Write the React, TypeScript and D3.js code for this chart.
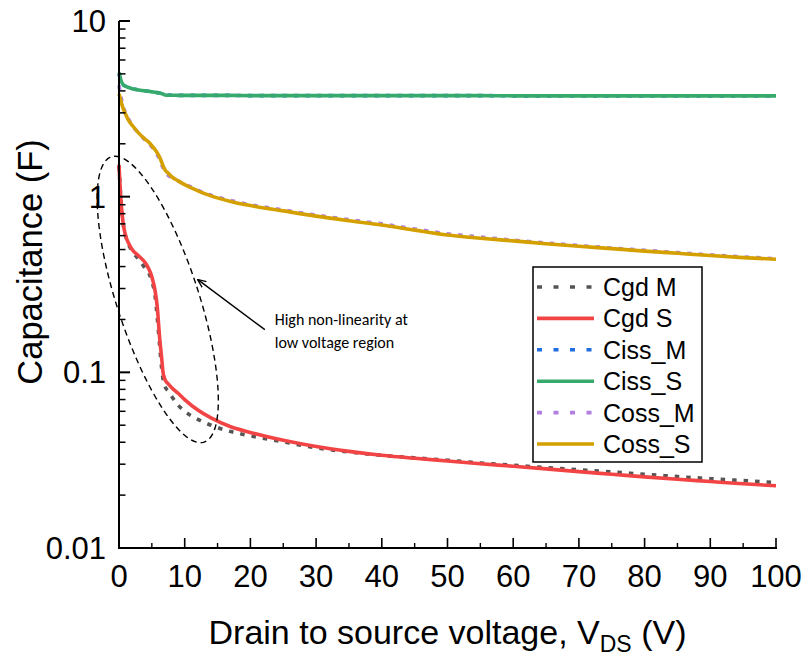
import React from "react";
import * as d3 from "d3";

const voltages = [0, 0.3, 0.6, 1, 1.5, 2, 3, 4, 4.5, 5, 5.5, 5.8, 6.2, 6.5, 6.7, 7, 7.5, 8, 9, 10, 12, 14, 17, 20, 25, 30, 35, 40, 45, 50, 55, 60, 65, 70, 75, 80, 85, 90, 95, 100];

const cgdM = [1.5, 0.95, 0.72, 0.6, 0.53, 0.49, 0.44, 0.39, 0.37, 0.33, 0.27, 0.21, 0.14, 0.105, 0.092, 0.083, 0.078, 0.073, 0.065, 0.06, 0.054, 0.05, 0.046, 0.0435, 0.0402, 0.0372, 0.0352, 0.0337, 0.0326, 0.0316, 0.0305, 0.0296, 0.0287, 0.0279, 0.0271, 0.0263, 0.0255, 0.0248, 0.0242, 0.0236];
const cgdS = [1.52, 0.95, 0.72, 0.6, 0.54, 0.5, 0.46, 0.42, 0.39, 0.35, 0.29, 0.24, 0.155, 0.12, 0.1, 0.091, 0.086, 0.082, 0.076, 0.07, 0.061, 0.055, 0.049, 0.0455, 0.041, 0.0378, 0.0355, 0.0337, 0.0324, 0.0313, 0.0302, 0.0292, 0.0282, 0.0272, 0.0263, 0.0254, 0.0246, 0.0239, 0.0232, 0.0226];
const cissM = [5.0, 4.6, 4.35, 4.25, 4.18, 4.12, 4.05, 4.0, 3.98, 3.95, 3.93, 3.91, 3.89, 3.86, 3.84, 3.8, 3.79, 3.78, 3.77, 3.77, 3.77, 3.77, 3.77, 3.76, 3.76, 3.76, 3.76, 3.76, 3.76, 3.76, 3.76, 3.75, 3.75, 3.75, 3.75, 3.75, 3.75, 3.75, 3.75, 3.75];
const cissS = [5.1, 4.6, 4.35, 4.25, 4.18, 4.12, 4.05, 4.0, 3.98, 3.95, 3.93, 3.91, 3.89, 3.86, 3.84, 3.79, 3.78, 3.78, 3.77, 3.77, 3.77, 3.77, 3.77, 3.76, 3.76, 3.76, 3.76, 3.76, 3.76, 3.76, 3.76, 3.75, 3.75, 3.75, 3.75, 3.75, 3.75, 3.75, 3.75, 3.75];
const cossM = [4.3, 3.7, 3.3, 3.0, 2.75, 2.55, 2.3, 2.1, 2.02, 1.92, 1.82, 1.74, 1.62, 1.52, 1.46, 1.38, 1.32, 1.28, 1.23, 1.18, 1.09, 1.02, 0.95, 0.9, 0.84, 0.785, 0.74, 0.70, 0.655, 0.615, 0.59, 0.565, 0.545, 0.527, 0.51, 0.495, 0.48, 0.466, 0.454, 0.443];
const cossS = [3.85, 3.5, 3.2, 2.95, 2.7, 2.55, 2.3, 2.12, 2.05, 1.95, 1.85, 1.78, 1.67, 1.57, 1.5, 1.42, 1.36, 1.3, 1.23, 1.17, 1.08, 1.01, 0.94, 0.89, 0.83, 0.775, 0.73, 0.69, 0.645, 0.605, 0.58, 0.56, 0.54, 0.522, 0.506, 0.49, 0.476, 0.462, 0.45, 0.44];

const seriesNames = ["Cgd M", "Cgd S", "Ciss_M", "Ciss_S", "Coss_M", "Coss_S"];
const seriesValues = [cgdM, cgdS, cissM, cissS, cossM, cossS];
const seriesColors = ["#555555", "#f24444", "#1f6fdc", "#36aa6c", "#b07fdf", "#d4a000"];
const seriesDashed = [true, false, true, false, true, false];
const drawOrder = [4, 5, 2, 3, 0, 1];

const xTicks = [0, 10, 20, 30, 40, 50, 60, 70, 80, 90, 100];
const xMinorTicks = [5, 15, 25, 35, 45, 55, 65, 75, 85, 95];
const yTicks = [0.01, 0.1, 1, 10];
const yTickLabels = ["0.01", "0.1", "1", "10"];

const annotationLines = ["High non-linearity at", "low voltage region"];

const W = 806;
const H = 656;
const FONT = "'Liberation Sans', Arial, sans-serif";

export default function App() {
  const x = d3.scaleLinear().domain([0, 100]).range([119, 776]);
  const y = d3.scaleLog().domain([0.01, 10]).range([548, 21]);

  const yMinor: number[] = [];
  [0.01, 0.1, 1].forEach((d) => {
    for (let k = 2; k <= 9; k++) yMinor.push(d * k);
  });

  const line = d3
    .line<number>()
    .x((_, i) => x(voltages[i]))
    .y((v) => y(v))
    .curve(d3.curveMonotoneX);

  const ellC = { x: x(5.9), y: y(0.26) };
  const arrowTail = { x: x(22.2), y: y(0.175) };
  const arrowHead = { x: x(12.0), y: y(0.337) };
  const textPos = { x: x(23.7), y: y(0.2) };

  const legendX = 533;
  const legendY = 267;
  const legendW = 169;
  const legendH = 195;
  const rowGap = 31.4;

  return (
    <svg
      width={W}
      height={H}
      style={{ position: "absolute", left: 0, top: 0, background: "#fff" }}
      xmlns="http://www.w3.org/2000/svg"
    >
      <defs>
        <marker id="ah" viewBox="0 0 10 10" refX="9" refY="5" markerWidth="9" markerHeight="9" orient="auto" markerUnits="userSpaceOnUse">
          <path d="M0,1 L9.5,5 L0,9" fill="none" stroke="#000" strokeWidth="1.4" />
        </marker>
      </defs>
      <rect x={0} y={0} width={W} height={H} fill="#fff" />

      {drawOrder.map((i) => (
        <path
          key={seriesNames[i]}
          d={line(seriesValues[i]) || ""}
          fill="none"
          stroke={seriesColors[i]}
          strokeWidth={3.6}
          strokeDasharray={seriesDashed[i] ? "4.5 7" : undefined}
          strokeLinejoin="round"
        />
      ))}

      <line x1={119} x2={119} y1={y(10)} y2={y(0.01) + 1} stroke="#000" strokeWidth={2} />
      <line x1={118} x2={x(100) + 1} y1={y(0.01)} y2={y(0.01)} stroke="#000" strokeWidth={2} />

      {yTicks.map((t, i) => (
        <g key={"yt" + t}>
          <line x1={119} x2={130} y1={y(t)} y2={y(t)} stroke="#000" strokeWidth={2} />
          <text x={106} y={y(t) + 11} textAnchor="end" fontFamily={FONT} fontSize={31} fill="#000">
            {yTickLabels[i]}
          </text>
        </g>
      ))}
      {yMinor.map((t) => (
        <line key={"ym" + t} x1={119} x2={125.5} y1={y(t)} y2={y(t)} stroke="#000" strokeWidth={1.5} />
      ))}

      {xTicks.map((t) => (
        <g key={"xt" + t}>
          <line x1={x(t)} x2={x(t)} y1={y(0.01)} y2={y(0.01) - 10} stroke="#000" strokeWidth={1.6} />
          <text x={x(t)} y={587} textAnchor="middle" fontFamily={FONT} fontSize={31} fill="#000">
            {t}
          </text>
        </g>
      ))}
      {xMinorTicks.map((t) => (
        <line key={"xm" + t} x1={x(t)} x2={x(t)} y1={y(0.01)} y2={y(0.01) - 5} stroke="#000" strokeWidth={1.4} />
      ))}

      <text
        transform={`translate(42, 262) rotate(-90)`}
        textAnchor="middle"
        fontFamily={FONT}
        fontSize={34.5}
        fill="#000"
      >
        Capacitance (F)
      </text>
      <text x={(x(0) + x(100)) / 2} y={644} textAnchor="middle" fontFamily={FONT} fontSize={34} fill="#000">
        Drain to source voltage, V
        <tspan fontSize={23} dy={8}>DS</tspan>
        <tspan dy={-8}> (V)</tspan>
      </text>

      <ellipse
        cx={ellC.x}
        cy={ellC.y}
        rx={41}
        ry={150}
        transform={`rotate(-18 ${ellC.x} ${ellC.y})`}
        fill="none"
        stroke="#000"
        strokeWidth={1.4}
        strokeDasharray="6 4"
      />
      <line
        x1={arrowTail.x}
        y1={arrowTail.y}
        x2={arrowHead.x}
        y2={arrowHead.y}
        stroke="#000"
        strokeWidth={1.4}
        markerEnd="url(#ah)"
      />
      {annotationLines.map((l, i) => (
        <text key={l} x={textPos.x} y={textPos.y + 6 + i * 23} fontFamily="Carlito, Lato, 'Open Sans', sans-serif" fontSize={16} fill="#000">
          {l}
        </text>
      ))}

      <rect x={legendX} y={legendY} width={legendW} height={legendH} fill="#fff" stroke="#000" strokeWidth={1.5} />
      {seriesNames.map((n, i) => {
        const ry = legendY + 20 + i * rowGap;
        return (
          <g key={"lg" + n}>
            <line
              x1={legendX + 4}
              x2={legendX + 61}
              y1={ry}
              y2={ry}
              stroke={seriesColors[i]}
              strokeWidth={3.6}
              strokeDasharray={seriesDashed[i] ? "5 11.5" : undefined}
            />
            <text x={legendX + 70} y={ry + 9} fontFamily={FONT} fontSize={25} fill="#000">
              {n}
            </text>
          </g>
        );
      })}
    </svg>
  );
}
